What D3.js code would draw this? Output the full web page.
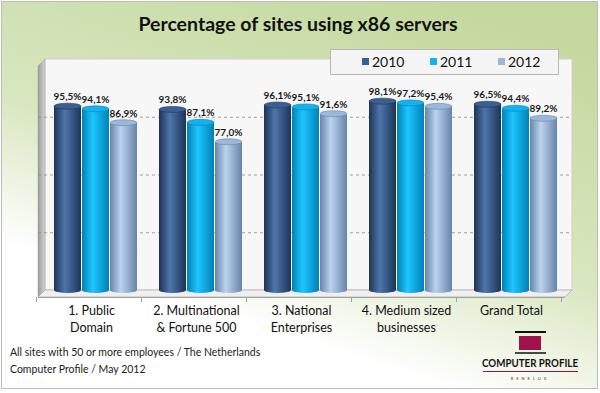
<!DOCTYPE html>
<html lang="en">
<head>
<meta charset="UTF-8">
<title>Percentage of sites using x86 servers</title>
<script src="https://d3js.org/d3.v7.min.js"></script>
<style>
    body { margin: 0; background: #fff; }
    svg text { font-family: Lato, "Open Sans", sans-serif; }
</style>
</head>
<body>
<script>
    var w = 600;
    var h = 393;

    // data
    var categories = [["1. Public", "Domain"], ["2. Multinational", "& Fortune 500"], ["3. National", "Enterprises"], ["4. Medium sized", "businesses"], ["Grand Total"]];
    var years = ["2010", "2011", "2012"];
    var values2010 = [95.5, 93.8, 96.1, 98.1, 96.5];
    var values2011 = [94.1, 87.1, 95.1, 97.2, 94.4];
    var values2012 = [86.9, 77.0, 91.6, 95.4, 89.2];
    var gridTicks = [30, 60, 90];

    var series = [values2010, values2011, values2012];
    var colors = [
        { edge: "#1d3457", mid: "#4e76ab", key: "#3a5f94" },
        { edge: "#0081b6", mid: "#1ec6ff", key: "#12b2ee" },
        { edge: "#6784aa", mid: "#bcd3ef", key: "#9bb7da" }
    ];

    var svg = d3.select("body").append("svg")
        .attr("width", w)
        .attr("height", h);

    var defs = svg.append("defs");

    var bg = defs.append("linearGradient").attr("id", "bg")
        .attr("x1", "0.75").attr("y1", "0").attr("x2", "0.25").attr("y2", "1");
    bg.append("stop").attr("offset", "0").attr("stop-color", "#c4d89e");
    bg.append("stop").attr("offset", "0.5").attr("stop-color", "#d9e7c0");
    bg.append("stop").attr("offset", "0.8").attr("stop-color", "#ffffff");
    bg.append("stop").attr("offset", "1").attr("stop-color", "#ffffff");

    colors.forEach(function(c, i) {
        var g = defs.append("linearGradient").attr("id", "bar" + i)
            .attr("x1", "0").attr("y1", "0").attr("x2", "1").attr("y2", "0");
        g.append("stop").attr("offset", "0").attr("stop-color", c.edge);
        g.append("stop").attr("offset", "0.4").attr("stop-color", c.mid);
        g.append("stop").attr("offset", "1").attr("stop-color", c.edge);
    });

    var wallGrad = defs.append("linearGradient").attr("id", "wall")
        .attr("x1", "0").attr("y1", "0").attr("x2", "1").attr("y2", "0");
    wallGrad.append("stop").attr("offset", "0").attr("stop-color", "#9a9a9a");
    wallGrad.append("stop").attr("offset", "1").attr("stop-color", "#d4d4d4");

    // background + frame
    svg.append("rect")
        .attr("x", 1.5).attr("y", 1.5)
        .attr("width", w - 4).attr("height", h - 6)
        .attr("fill", "url(#bg)")
        .attr("stroke", "#bdbdbd");

    svg.append("text")
        .attr("x", 298).attr("y", 31)
        .attr("text-anchor", "middle")
        .attr("font-size", "19.5px")
        .attr("font-weight", "bold")
        .attr("fill", "#111")
        .text("Percentage of sites using x86 servers");

    // scales
    var depth = 7;
    var plotLeft = 45, plotRight = 572, plotTop = 59, plotBottom = 290;

    var xScale = d3.scaleBand()
        .domain(d3.range(categories.length))
        .range([plotLeft - 2, plotRight - 4])
        .paddingInner(0.2)
        .paddingOuter(0.1);

    var xSub = d3.scaleBand()
        .domain(d3.range(years.length))
        .range([0, xScale.bandwidth()]);

    var yScale = d3.scaleLinear()
        .domain([0, 120])
        .range([plotBottom, plotTop]);

    // back wall
    svg.append("rect")
        .attr("x", plotLeft).attr("y", plotTop)
        .attr("width", plotRight - plotLeft).attr("height", plotBottom - plotTop)
        .attr("fill", "#f7f7f7")
        .attr("stroke", "#d0d0d0");

    // left wall
    svg.append("path")
        .attr("d", "M" + (plotLeft - depth) + "," + (plotTop + depth) + "L" + plotLeft + "," + plotTop +
              "L" + plotLeft + "," + plotBottom + "L" + (plotLeft - depth) + "," + (plotBottom + depth) + "Z")
        .attr("fill", "url(#wall)")
        .attr("stroke", "#a0a0a0")
        .attr("stroke-width", 0.5);

    // floor
    svg.append("path")
        .attr("d", "M" + plotLeft + "," + plotBottom + "L" + plotRight + "," + plotBottom +
              "L" + (plotRight - depth) + "," + (plotBottom + depth) + "L" + (plotLeft - depth) + "," + (plotBottom + depth) + "Z")
        .attr("fill", "#efefef")
        .attr("stroke", "#b0b0b0")
        .attr("stroke-width", 0.8);

    // gridlines
    svg.selectAll(".grid")
        .data(gridTicks)
        .enter()
        .append("line")
        .attr("class", "grid")
        .attr("x1", plotLeft - depth).attr("x2", plotRight)
        .attr("y1", function(d) { return yScale(d) + 0.5; })
        .attr("y2", function(d) { return yScale(d) + 0.5; })
        .attr("stroke", "#8c8c8c")
        .attr("stroke-width", 0.8)
        .attr("stroke-dasharray", "3,3");

    // x axis line + ticks
    svg.append("line")
        .attr("x1", plotLeft - depth).attr("x2", plotRight - depth)
        .attr("y1", plotBottom + depth + 0.5).attr("y2", plotBottom + depth + 0.5)
        .attr("stroke", "#a0a0a0");

    var bounds = d3.range(categories.length + 1).map(function(i) {
        return i < categories.length ? xScale(i) - xScale.step() * xScale.paddingInner() / 2 : plotRight - 4;
    });
    svg.selectAll(".tick")
        .data(bounds)
        .enter()
        .append("line")
        .attr("x1", function(d) { return d - depth + 0.5; })
        .attr("x2", function(d) { return d - depth + 0.5; })
        .attr("y1", plotBottom + depth)
        .attr("y2", plotBottom + depth + 5)
        .attr("stroke", "#a0a0a0");

    // bars as cylinders
    var rows = [];
    series.forEach(function(vals, s) {
        vals.forEach(function(v, c) {
            rows.push({ s: s, c: c, v: v });
        });
    });

    var bw = xSub.bandwidth();
    var ry = 3;

    var bars = svg.selectAll(".bar")
        .data(rows)
        .enter()
        .append("g")
        .attr("class", "bar");

    bars.append("ellipse")
        .attr("cx", function(d) { return xScale(d.c) + xSub(d.s) + bw / 2; })
        .attr("cy", plotBottom)
        .attr("rx", bw / 2 - 0.5)
        .attr("ry", ry)
        .attr("fill", function(d) { return "url(#bar" + d.s + ")"; });

    bars.append("rect")
        .attr("x", function(d) { return xScale(d.c) + xSub(d.s) + 0.5; })
        .attr("y", function(d) { return yScale(d.v); })
        .attr("width", bw - 1)
        .attr("height", function(d) { return plotBottom - yScale(d.v); })
        .attr("fill", function(d) { return "url(#bar" + d.s + ")"; });

    bars.append("ellipse")
        .attr("cx", function(d) { return xScale(d.c) + xSub(d.s) + bw / 2; })
        .attr("cy", function(d) { return yScale(d.v); })
        .attr("rx", bw / 2 - 0.5)
        .attr("ry", ry)
        .attr("fill", function(d) { return colors[d.s].key; })
        .attr("stroke", function(d) { return colors[d.s].edge; })
        .attr("stroke-width", 0.6);

    // value labels
    svg.selectAll(".val")
        .data(rows)
        .enter()
        .append("text")
        .attr("class", "val")
        .attr("x", function(d) { return xScale(d.c) + xSub(d.s) + bw / 2; })
        .attr("y", function(d) { return yScale(d.v) - 6; })
        .attr("text-anchor", "middle")
        .attr("font-size", "10px")
        .attr("font-weight", "bold")
        .attr("fill", "#1a1a1a")
        .text(function(d) { return d.v.toFixed(1).replace(".", ",") + "%"; });

    // category labels
    var cats = svg.selectAll(".cat")
        .data(categories)
        .enter()
        .append("text")
        .attr("class", "cat")
        .attr("x", function(d, i) { return xScale(i) + xScale.bandwidth() / 2 - 4; })
        .attr("y", 315)
        .attr("text-anchor", "middle")
        .attr("font-size", "12.5px")
        .attr("fill", "#111");
    cats.selectAll("tspan")
        .data(function(d) { return d; })
        .enter()
        .append("tspan")
        .attr("x", function() { return d3.select(this.parentNode).attr("x"); })
        .attr("dy", function(d, i) { return i === 0 ? 0 : 17; })
        .text(function(d) { return d; });

    // legend
    var legend = svg.append("g");
    legend.append("rect")
        .attr("x", 330.5).attr("y", 49.5)
        .attr("width", 228).attr("height", 25)
        .attr("fill", "#f4f4f4")
        .attr("stroke", "#b8b8b8");
    var legendX = d3.scalePoint().domain(years).range([362, 498]);
    var items = legend.selectAll(".key")
        .data(years)
        .enter()
        .append("g");
    items.append("rect")
        .attr("x", function(d) { return legendX(d); })
        .attr("y", 58)
        .attr("width", 7).attr("height", 7)
        .attr("fill", function(d, i) { return colors[i].key; });
    items.append("text")
        .attr("x", function(d) { return legendX(d) + 10; })
        .attr("y", 66.5)
        .attr("font-size", "14px")
        .attr("fill", "#111")
        .text(function(d) { return d; });

    // footer notes
    svg.append("text")
        .attr("x", 10).attr("y", 356)
        .attr("font-size", "10.5px")
        .attr("fill", "#222")
        .text("All sites with 50 or more employees / The Netherlands");
    svg.append("text")
        .attr("x", 10).attr("y", 373)
        .attr("font-size", "10.5px")
        .attr("fill", "#222")
        .text("Computer Profile / May 2012");

    // logo
    var logo = svg.append("g");
    logo.append("line").attr("x1", 515).attr("x2", 546).attr("y1", 332).attr("y2", 332)
        .attr("stroke", "#111").attr("stroke-width", 2);
    logo.append("rect").attr("x", 519).attr("y", 336).attr("width", 22).attr("height", 14)
        .attr("fill", "#a0134a");
    logo.append("line").attr("x1", 515).attr("x2", 546).attr("y1", 353).attr("y2", 353)
        .attr("stroke", "#111").attr("stroke-width", 1.5);
    logo.append("text").attr("x", 530).attr("y", 367)
        .attr("text-anchor", "middle")
        .attr("font-size", "12px")
        .attr("font-weight", "bold")
        .attr("fill", "#111")
        .attr("textLength", 96).attr("lengthAdjust", "spacingAndGlyphs")
        .text("COMPUTER PROFILE");
    logo.append("line").attr("x1", 483).attr("x2", 578).attr("y1", 371.5).attr("y2", 371.5)
        .attr("stroke", "#a0134a").attr("stroke-width", 1.2);
    logo.append("text").attr("x", 530).attr("y", 380)
        .attr("text-anchor", "middle")
        .attr("font-size", "4px")
        .attr("letter-spacing", "3px")
        .attr("fill", "#333")
        .text("BENELUX");
</script>
</body>
</html>
